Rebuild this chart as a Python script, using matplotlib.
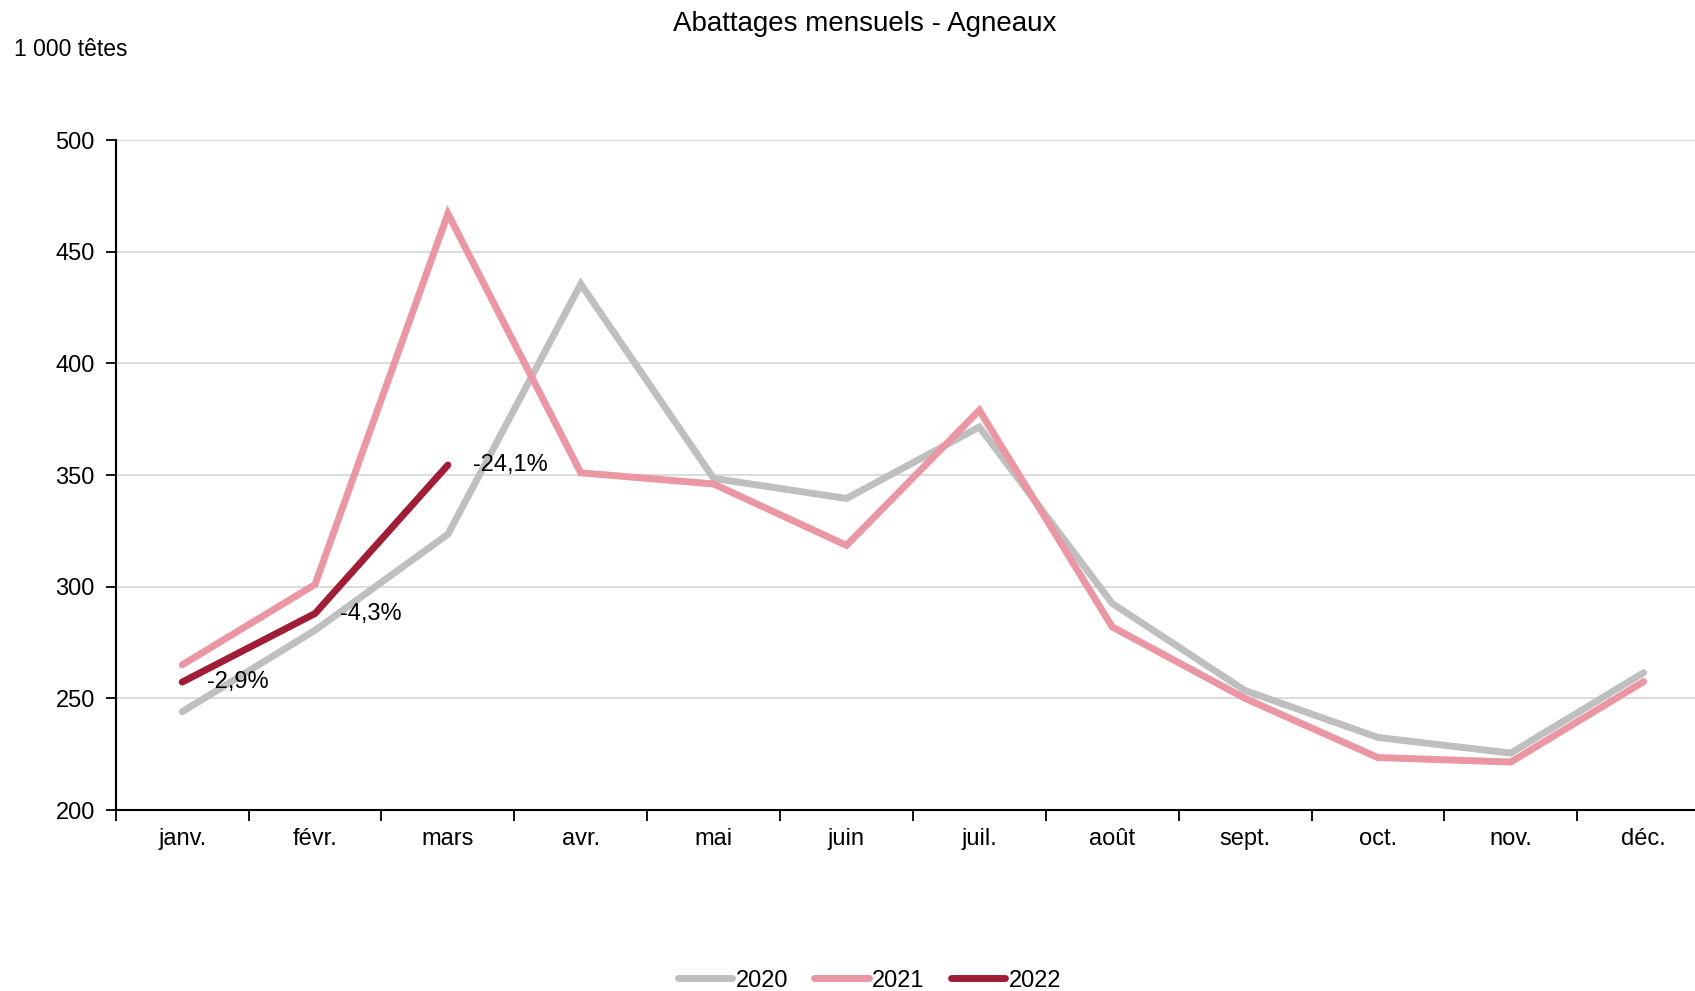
import matplotlib
matplotlib.use("Agg")
import matplotlib.pyplot as plt
import numpy as np

plt.rcParams['font.family'] = ['Liberation Sans', 'DejaVu Sans']

# mois
mois = ["janv.", "févr.", "mars", "avr.", "mai", "juin",
        "juil.", "août", "sept.", "oct.", "nov.", "déc."]
# abattages (1 000 têtes)
v2020 = [244, 280.5, 323.5, 435.5, 348.5, 339.5, 371.5, 292.5, 253.5, 232.5, 225.5, 261.5]
v2021 = [265, 301, 467, 351, 346, 318.5, 379, 282, 250, 223.5, 221.5, 257.5]
v2022 = [257.3, 288, 354.5]
# variations 2022/2021
etiquettes = ["-2,9%", "-4,3%", "-24,1%"]

couleurs = {"2020": "#bfbfbf", "2021": "#ea97a3", "2022": "#a01d35"}

fig = plt.figure(figsize=(16.95, 9.91), dpi=100)
ax = fig.add_axes([0.0683, 0.1826, 0.9406, 0.6761])

x = np.arange(len(mois))
style = dict(lw=5, solid_capstyle="round", solid_joinstyle="miter")
ax.plot(x, v2020, color=couleurs["2020"], label="2020", **style)
ax.plot(x, v2021, color=couleurs["2021"], label="2021", **style)
ax.plot(x[:len(v2022)], v2022, color=couleurs["2022"], label="2022", **style)

for i, t in enumerate(etiquettes):
    ax.text(i + 0.19, v2022[i], t, ha="left", va="center", fontsize=17, color="black")

ax.set_xlim(-0.5, 11.5)
ax.set_ylim(200, 500)
ax.set_yticks(np.arange(200, 501, 50))
ax.yaxis.grid(True, color="#d9d9d9", lw=1.3)
ax.set_axisbelow(True)

# graduations entre les catégories, libellés au centre
ax.set_xticks(np.arange(-0.5, 12, 1))
ax.set_xticklabels([])
ax.set_xticks(x, minor=True)
ax.set_xticklabels(mois, minor=True)
ax.tick_params(axis="x", which="major", length=8, width=1.3, direction="out")
ax.tick_params(axis="x", which="minor", length=0, pad=13, labelsize=17)
ax.tick_params(axis="y", length=7, width=1.3, pad=8, labelsize=17)

for s in ["top", "right"]:
    ax.spines[s].set_visible(False)
for s in ["left", "bottom"]:
    ax.spines[s].set_linewidth(1.5)

fig.text(0.51, 0.976, "Abattages mensuels - Agneaux", ha="center", va="center", fontsize=20)
fig.text(0.008, 0.950, "1 000 têtes", ha="left", va="center", fontsize=16.5)

fig.legend(loc="lower center", bbox_to_anchor=(0.513, -0.022), ncol=3, frameon=False,
           fontsize=17, handlelength=2.3, handletextpad=0.15, columnspacing=1.1)

fig.savefig("out.png", dpi=100)
